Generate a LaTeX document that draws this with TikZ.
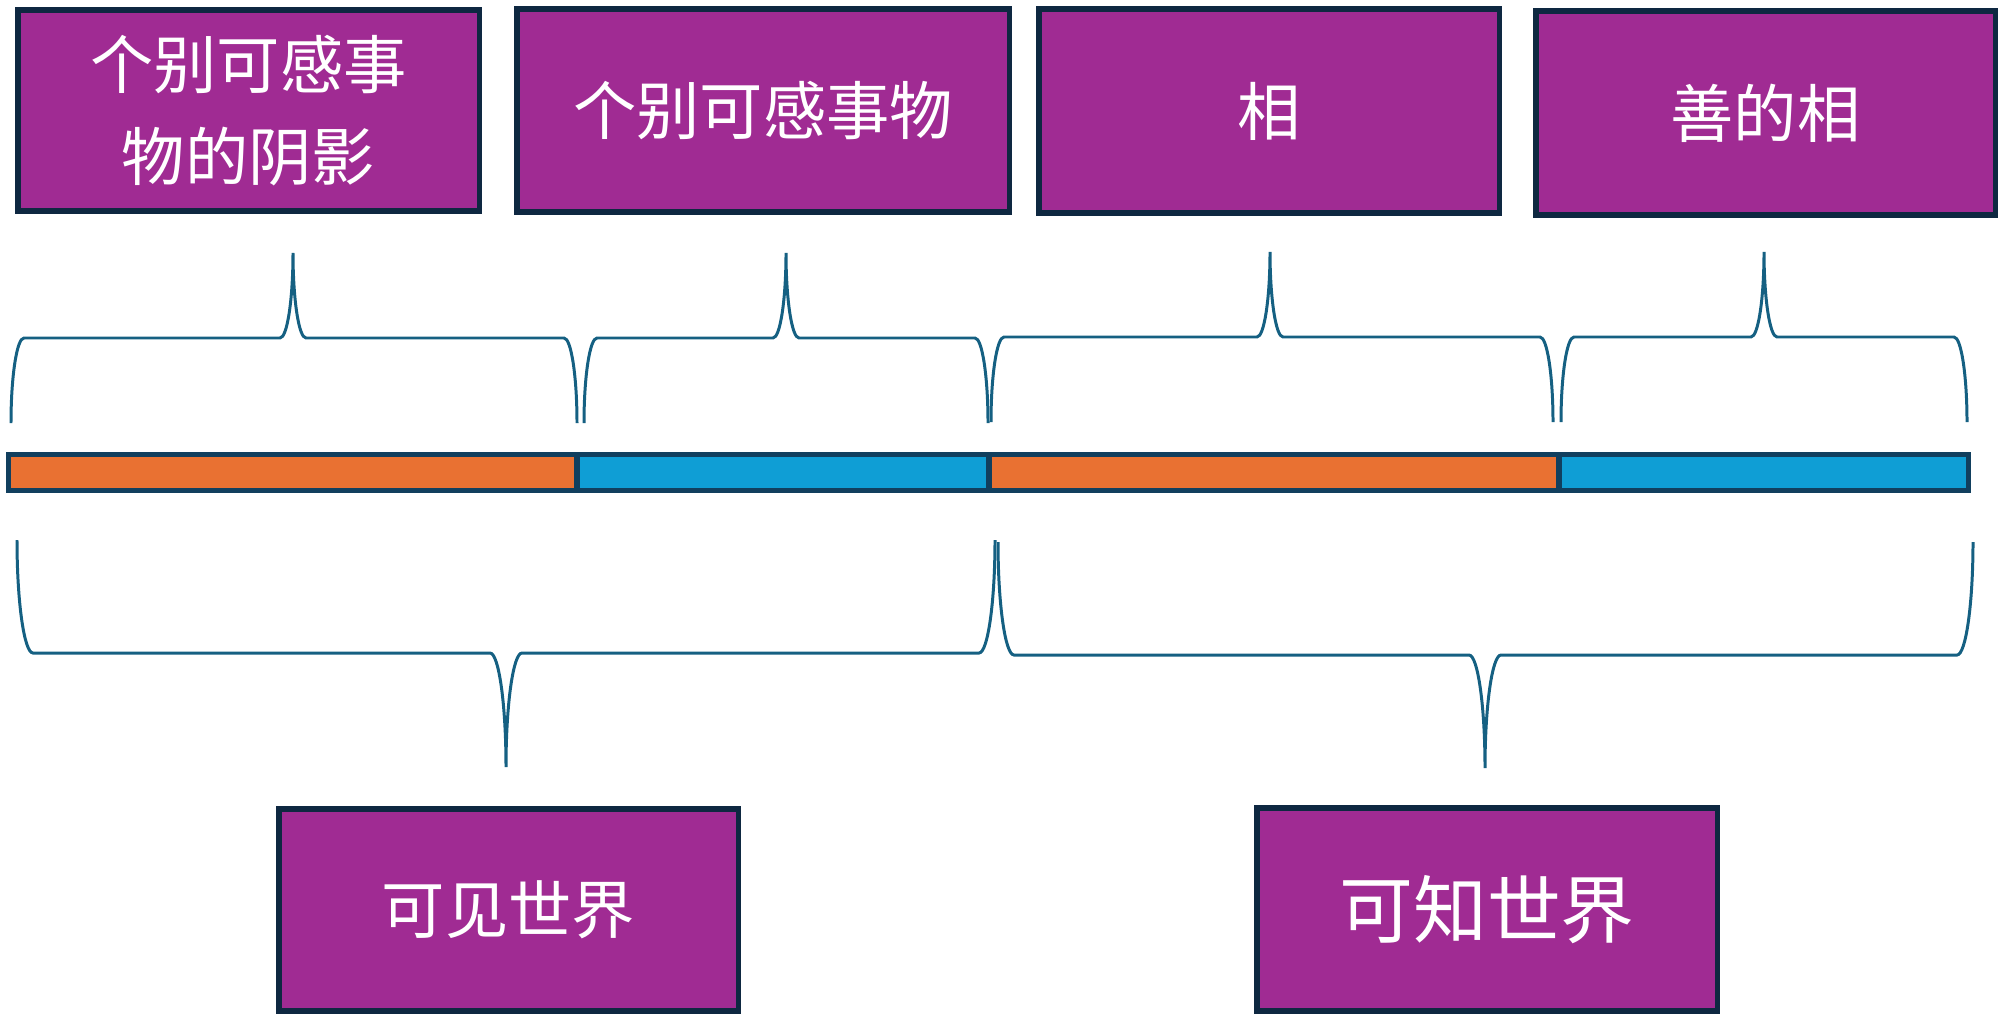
\documentclass[tikz,border=0pt]{standalone}
\usepackage{fontspec}
\newfontfamily\cjk{Noto Sans CJK SC}
\definecolor{boxpurple}{HTML}{A02B93}
\definecolor{boxline}{HTML}{0E2841}
\definecolor{barline}{HTML}{113F5E}
\definecolor{barorange}{HTML}{E97132}
\definecolor{barblue}{HTML}{0F9ED5}
\definecolor{braceblue}{HTML}{156082}
\newcommand{\mybrace}[7]{% xl, xt, xr, ye, ym, yt, r
  \pgfmathsetmacro\hA{0.55*(#4-#5)}%
  \pgfmathsetmacro\nA{-0.55*(#4-#5)}%
  \pgfmathsetmacro\hB{0.55*(#5-#6)}%
  \pgfmathsetmacro\rk{0.55*#7}%
  \pgfmathsetmacro\nk{-0.55*#7}%
  \draw[bracestyle] (#1,#4) .. controls +(0,\nA) and +(\nk,0) .. (#1+#7,#5)
    -- (#2-#7,#5) .. controls +(\rk,0) and +(0,\hB) .. (#2,#6)
    .. controls +(0,\hB) and +(\nk,0) .. (#2+#7,#5)
    -- (#3-#7,#5) .. controls +(\rk,0) and +(0,\nA) .. (#3,#4);
}
\begin{document}
\begin{tikzpicture}[x=0.01cm,y=-0.01cm,
  pbox/.style={draw=boxline, line width=1.5pt, fill=boxpurple, text=white,
    inner sep=0pt, align=center, font=\cjk\fontsize{18pt}{24pt}\selectfont},
  barseg/.style={draw=barline, line width=1.6pt, inner sep=0pt,
    minimum height=0.36cm},
  bracestyle/.style={draw=braceblue, line width=0.85pt}]
\useasboundingbox (0,0) rectangle (2000,1015);
% top boxes
\node[pbox, minimum width=4.61cm, minimum height=2.01cm] (b1) at (248.5,110.5) {个别可感事\\[2pt]物的阴影};
\node[pbox, minimum width=4.92cm, minimum height=2.03cm] (b2) at (763,110.5) {个别可感事物};
\node[pbox, minimum width=4.60cm, minimum height=2.04cm] (b3) at (1269,111) {相};
\node[pbox, minimum width=4.59cm, minimum height=2.04cm] (b4) at (1765.5,113) {善的相};
% bar
\node[barseg, fill=barorange, minimum width=5.685cm] (s1) at (292.75,472.5) {};
\node[barseg, fill=barblue, minimum width=4.12cm] (s2) at (783,472.5) {};
\node[barseg, fill=barorange, minimum width=5.70cm] (s3) at (1274,472.5) {};
\node[barseg, fill=barblue, minimum width=4.095cm] (s4) at (1763.75,472.5) {};
% top braces
\mybrace{11}{293}{577}{423}{338}{253}{13}
\mybrace{584}{786}{988}{423}{338}{253}{13}
\mybrace{991}{1270}{1553}{422}{337}{252}{13}
\mybrace{1561}{1764}{1967}{422}{337}{252}{13}
% bottom braces
\mybrace{17}{506}{995}{540}{653}{767}{16}
\mybrace{998}{1485}{1973}{542}{655}{768}{16}
% bottom boxes
\node[pbox, minimum width=4.59cm, minimum height=2.02cm] (b5) at (508.5,910) {可见世界};
\node[pbox, minimum width=4.60cm, minimum height=2.03cm, font=\cjk\fontsize{21pt}{26pt}\selectfont] (b6) at (1487,909.5) {可知世界};
\end{tikzpicture}
\end{document}
